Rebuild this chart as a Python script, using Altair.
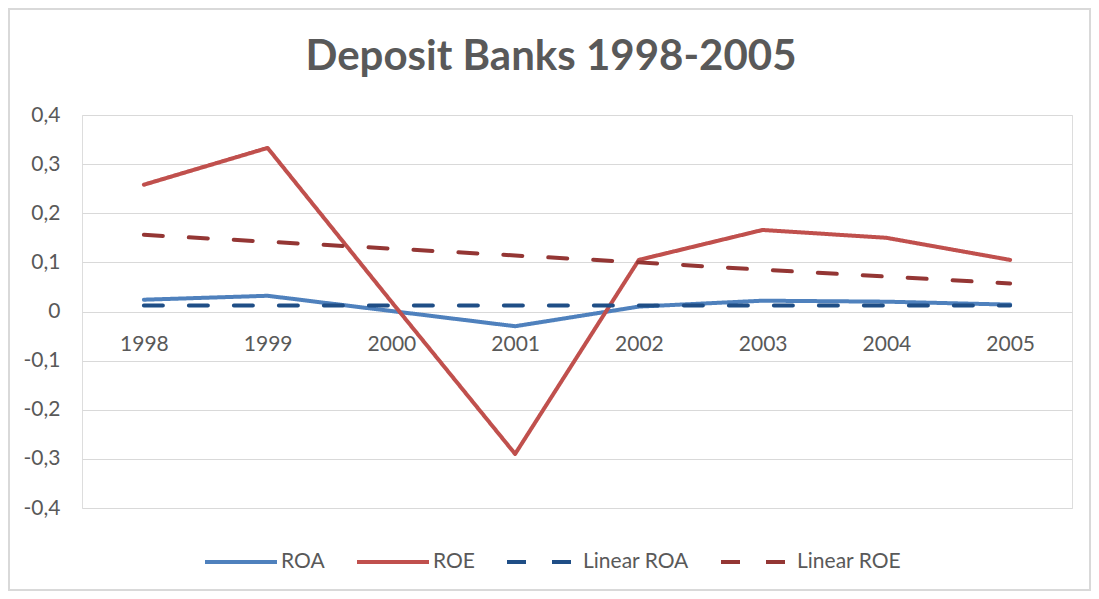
import altair as alt
import pandas as pd

years = ["1998", "1999", "2000", "2001", "2002", "2003", "2004", "2005"]
roa = [0.024, 0.032, 0.001, -0.030, 0.010, 0.022, 0.020, 0.014]
roe = [0.258, 0.333, 0.020, -0.290, 0.105, 0.166, 0.150, 0.105]
lin_roa = [0.012, 0.012, 0.012, 0.012, 0.012, 0.012, 0.012, 0.012]
lin_roe = [0.156, 0.142, 0.128, 0.114, 0.100, 0.085, 0.071, 0.057]

series_names = ["ROA", "ROE", "Linear ROA", "Linear ROE"]
series_vals = [roa, roe, lin_roa, lin_roe]

rows = []
for name, vals in zip(series_names, series_vals):
    for y, v in zip(years, vals):
        rows.append({"year": y, "value": v, "series": name})
df = pd.DataFrame(rows)

W, H = 990, 393
PAD_L, PAD_T, PAD_R, PAD_B = 74, 107, 19, 83

FONT = "Lato"
GRAY = "#595959"

legend = alt.Legend(
    title=None, orient="none", direction="horizontal",
    legendX=121, legendY=409, gridAlign="none",
    symbolType="stroke", symbolSize=5184, symbolStrokeWidth=4,
    labelFont=FONT, labelFontSize=21, labelColor=GRAY,
    labelOffset=2, columnPadding=24,
)

enc = dict(
    x=alt.X("year:N", sort=years, title=None,
            scale=alt.Scale(type="point", padding=0.5),
            axis=alt.Axis(orient="bottom", offset=-196, domain=False, ticks=False,
                          grid=False, labelAngle=0, labelPadding=21,
                          labelFont=FONT, labelFontSize=21, labelColor=GRAY)),
    y=alt.Y("value:Q", title=None,
            scale=alt.Scale(domain=[-0.4, 0.4], nice=False, zero=False),
            axis=alt.Axis(values=[-0.4, -0.3, -0.2, -0.1, 0, 0.1, 0.2, 0.3, 0.4],
                          domain=False, ticks=False, gridColor="#d9d9d9", gridWidth=1,
                          labelPadding=22, labelFont=FONT, labelFontSize=21,
                          labelColor=GRAY,
                          labelExpr="datum.value == 0 ? '0' : replace(replace(format(datum.value, '.1f'), '.', ','), '\u2212', '-')")),
    color=alt.Color("series:N", sort=series_names,
                    scale=alt.Scale(domain=series_names,
                                    range=["#4F81BD", "#C0504D", "#1F4E86", "#943634"]),
                    legend=legend),
    strokeDash=alt.StrokeDash("series:N", sort=series_names,
                              scale=alt.Scale(domain=series_names,
                                              range=[[1, 0], [1, 0], [19, 26], [19, 26]]),
                              legend=legend),
    strokeWidth=alt.StrokeWidth("series:N", sort=series_names,
                                scale=alt.Scale(domain=series_names, range=[4, 4, 6.5, 6.5]),
                                legend=None),
)

base = alt.Chart(df)
solid = base.transform_filter(
    alt.FieldOneOfPredicate(field="series", oneOf=["ROA", "ROE"])
).mark_line(strokeCap="round", strokeJoin="round").encode(**enc)
dashed = base.transform_filter(
    alt.FieldOneOfPredicate(field="series", oneOf=["Linear ROA", "Linear ROE"])
).mark_line(strokeCap="round", strokeJoin="round").encode(**enc)

border = alt.Chart(pd.DataFrame({"a": [0]})).mark_rect(
    fill=None, stroke="#d9d9d9", strokeWidth=2
).encode(
    x=alt.value(-PAD_L + 1), x2=alt.value(W + PAD_R - 1),
    y=alt.value(-PAD_T + 1), y2=alt.value(H + PAD_B - 1),
)

chart = alt.layer(border, solid, dashed).properties(
    width=W, height=H,
    autosize=alt.AutoSizeParams(type="none"),
    padding={"left": PAD_L, "top": PAD_T, "right": PAD_R, "bottom": PAD_B},
    title=alt.Title("Deposit Banks 1998-2005", font=FONT, fontSize=42, fontWeight="bold",
                    color=GRAY, anchor="middle", baseline="alphabetic", offset=-104,
                    dx=-26),
).configure_view(stroke=None).configure(background="white")

chart.save("out.html", embed_options={"renderer": "svg", "actions": False})
